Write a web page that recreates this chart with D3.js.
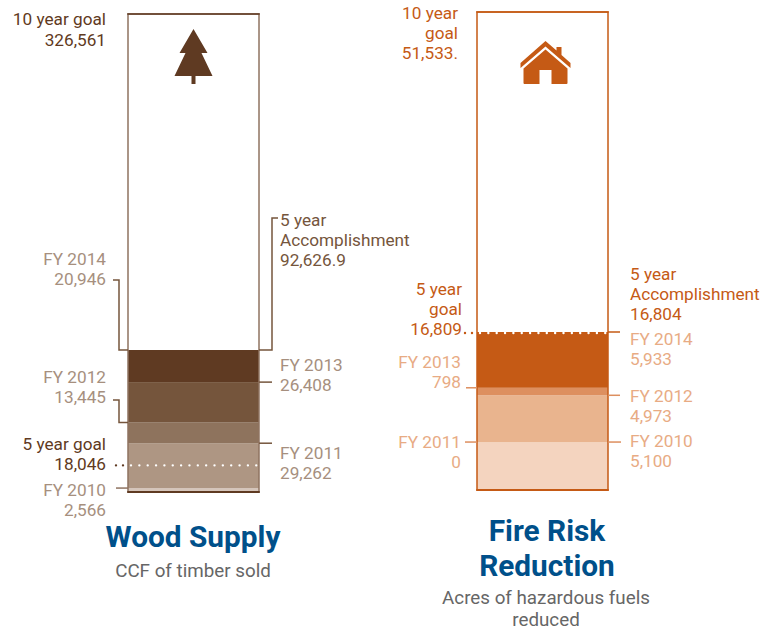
<!DOCTYPE html>
<html>
<head>
<meta charset="utf-8">
<script src="https://cdn.jsdelivr.net/npm/d3@7"></script>
<style>
  html, body { margin: 0; padding: 0; background: #fff; }
  svg { display: block; }
  text { font-family: Roboto, sans-serif; font-size: 17.2px; }
</style>
</head>
<body>
<svg width="778" height="631"></svg>
<script>
var fiscalYears = ["FY 2010", "FY 2011", "FY 2012", "FY 2013", "FY 2014"]

var woodValues = [2566, 29262, 13445, 26408, 20946]
var woodGoal5 = 18046
var woodGoal10 = 326561
var woodDone = 92626.9

var fireValues = [5100, 0, 4973, 798, 5933]
var fireGoal5 = 16809
var fireGoal10 = 51533
var fireDone = 16804

var fmt = d3.format(",")
var svg = d3.select("svg")

// multi line label, y is the first baseline
function label(x, ys, lines, anchor, color, weight) {
  var t = svg.append("g").attr("fill", color).attr("text-anchor", anchor)
  lines.forEach((s, i) => {
    t.append("text").attr("x", x).attr("y", ys[i]).attr("font-weight", weight || 400).text(s)
  })
}

function leader(points, color) {
  svg.append("path")
    .attr("d", d3.line()(points))
    .attr("fill", "none")
    .attr("stroke", color)
    .attr("stroke-width", 1.5)
}

// stacked column: bands run from FY 2010 at the bottom up to FY 2014
function column(opts) {
  var x = d3.scaleLinear().domain([0, 1]).range(opts.xRange)
  // lower part is to scale up to the accomplishment, then compressed to the 10 year goal
  var y = d3.scaleLinear()
    .domain([0, opts.done, opts.goal10])
    .range(opts.yRange)

  var start = 0
  var bands = opts.values.map((v, i) => {
    var b = {year: fiscalYears[i], value: v, from: start, to: start + v, color: opts.bandColors[i]}
    start += v
    return b
  })

  svg.append("g").selectAll("rect")
    .data(bands)
    .enter().append("rect")
    .attr("x", x(0))
    .attr("width", x(1) - x(0))
    .attr("y", d => y(d.to))
    .attr("height", d => y(d.from) - y(d.to))
    .attr("fill", d => d.color)

  // frame around the full 10 year goal
  svg.append("rect")
    .attr("x", x(0))
    .attr("y", y(opts.goal10))
    .attr("width", x(1) - x(0))
    .attr("height", y(0) - y(opts.goal10))
    .attr("fill", "none")
    .attr("stroke", opts.frame)
    .attr("stroke-width", 1.5)
  svg.append("path")
    .attr("d", d3.line()([[x(0) - 0.75, y(opts.goal10)], [x(1) + 0.75, y(opts.goal10)]]))
    .attr("stroke", opts.dark)
    .attr("stroke-width", 1.5)
  svg.append("path")
    .attr("d", d3.line()([[x(0) - 0.75, y(0)], [x(1) + 0.75, y(0)]]))
    .attr("stroke", opts.dark)
    .attr("stroke-width", 2)

  // dotted 5 year goal line, white inside the column and two dark dots outside
  var gy = y(opts.goal5) + 1
  svg.append("line")
    .attr("x1", x(0) + 3).attr("x2", x(1) - 1)
    .attr("y1", gy).attr("y2", gy)
    .attr("stroke", "#fff").attr("stroke-width", 2.4)
    .attr("stroke-linecap", "round").attr("stroke-dasharray", "0 8.35")
  svg.append("line")
    .attr("x1", x(0) - 12).attr("x2", x(0) - 4)
    .attr("y1", gy).attr("y2", gy)
    .attr("stroke", opts.dark).attr("stroke-width", 2.4)
    .attr("stroke-linecap", "round").attr("stroke-dasharray", "0 7")

  return {x: x, y: y, bands: bands}
}

// Wood Supply
var woodDark = "#5f3a22"
var woodText = "#a68f7e"
var wood = column({
  values: woodValues, done: woodDone, goal5: woodGoal5, goal10: woodGoal10,
  xRange: [128, 259], yRange: [492, 350, 14],
  bandColors: ["#d5c5ba", "#ae9683", "#8e735d", "#75553c", "#5f3a22"],
  frame: "#8f7360", dark: woodDark
})
var wy = d => wood.y(wood.bands[d].to)

leader([[113, 280], [119, 280], [119, wy(4)], [128, wy(4)]], "#75553c")
leader([[259, wy(4)], [272, wy(4)], [272, 218], [278, 218]], "#75553c")
leader([[113, 400], [119, 400], [119, wy(2)], [128, wy(2)]], "#75553c")
leader([[259, wy(3)], [272, wy(3)]], "#75553c")
leader([[259, wy(1)], [272, wy(1)]], "#75553c")
leader([[116, wy(0)], [128, wy(0)]], "#8f7360")

label(106, [25, 46], ["10 year goal", fmt(woodGoal10)], "end", "#5f3a22")
label(106, [265, 285], [fiscalYears[4], fmt(woodValues[4])], "end", woodText)
label(106, [383, 403], [fiscalYears[2], fmt(woodValues[2])], "end", woodText)
label(106, [450, 470], ["5 year goal", fmt(woodGoal5)], "end", "#5f3a22")
label(106, [496, 516], [fiscalYears[0], fmt(woodValues[0])], "end", woodText)
label(280, [226, 246, 266], ["5 year", "Accomplishment", fmt(woodDone)], "start", "#75553c")
label(280, [371, 391], [fiscalYears[3], fmt(woodValues[3])], "start", woodText)
label(280, [459, 479], [fiscalYears[1], fmt(woodValues[1])], "start", woodText)

svg.append("path")
  .attr("transform", "translate(193.5,29)")
  .attr("d", "M0,0 L14,24 L8,24 L19,47 L2,47 L2,55 L-2,55 L-2,47 L-19,47 L-8,24 L-14,24 Z")
  .attr("fill", woodDark)

// Fire Risk Reduction
var fireDark = "#c55a15"
var fireText = "#e8ab84"
var fire = column({
  values: fireValues, done: fireDone, goal5: fireGoal5, goal10: fireGoal10,
  xRange: [477, 608], yRange: [490, 332, 12],
  bandColors: ["#f4d4bf", "#f4d4bf", "#e9b48e", "#dd8f5f", "#c55a15"],
  frame: fireDark, dark: fireDark
})
var fy = d => fire.y(fire.bands[d].to)

leader([[608, fy(4)], [620, fy(4)]], fireDark)
leader([[608, fy(2)], [620, fy(2)]], "#dd8f5f")
leader([[608, fy(0)], [621, fy(0)]], "#dd8f5f")
leader([[466, fy(3)], [477, fy(3)]], "#dd8f5f")
leader([[465, fy(1)], [477, fy(1)]], "#dd8f5f")

label(458, [19, 39, 59], ["10 year", "goal", fmt(fireGoal10) + "."], "end", fireDark)
label(462, [295, 315, 335], ["5 year", "goal", fmt(fireGoal5)], "end", fireDark)
label(461, [368, 388], [fiscalYears[3], fmt(fireValues[3])], "end", fireText)
label(461, [448, 468], [fiscalYears[1], fmt(fireValues[1])], "end", fireText)
label(630, [280, 300, 320], ["5 year", "Accomplishment", fmt(fireDone)], "start", fireDark)
label(630, [345, 365], [fiscalYears[4], fmt(fireValues[4])], "start", fireText)
label(630, [402, 422], [fiscalYears[2], fmt(fireValues[2])], "start", fireText)
label(630, [447, 467], [fiscalYears[0], fmt(fireValues[0])], "start", fireText)

// house icon: roof band and body with a door cut out
var house = svg.append("g").attr("transform", "translate(545.5,41)").attr("fill", fireDark)
house.append("path")
  .attr("d", "M0,0 L11,9.5 L11,6 L16,6 L16,14 L25,22 L25,27 L0,5.5 L-25,27 L-25,22 Z")
house.append("path")
  .attr("fill-rule", "evenodd")
  .attr("d", "M0,8.5 L22,27.5 L22,42 Q22,43 21,43 L6,43 L6,29 L-6,29 L-6,43 L-21,43 Q-22,43 -22,42 L-22,27.5 Z")

// titles, one text element per block so the lines stay tight
function title(cx, y0, lines, lead) {
  var t = svg.append("text")
    .attr("text-anchor", "middle").attr("fill", "#00508a")
    .attr("font-weight", 700).style("font-size", "29.8px")
  lines.forEach((s, i) => {
    t.append("tspan").attr("x", cx).attr("y", y0 + i * lead).text(s)
  })
}
function subtitle(cx, y0, lines) {
  var t = svg.append("text")
    .attr("text-anchor", "middle").attr("fill", "#666").style("font-size", "18.8px")
  lines.forEach((s, i) => {
    t.append("tspan").attr("x", cx).attr("y", y0 + i * 22).text(s)
  })
}
title(193, 547, ["Wood Supply"], 0)
subtitle(193, 577, ["CCF of timber sold"])
title(547, 541, ["Fire Risk", "Reduction"], 35)
subtitle(546, 604, ["Acres of hazardous fuels", "reduced"])
</script>
</body>
</html>
